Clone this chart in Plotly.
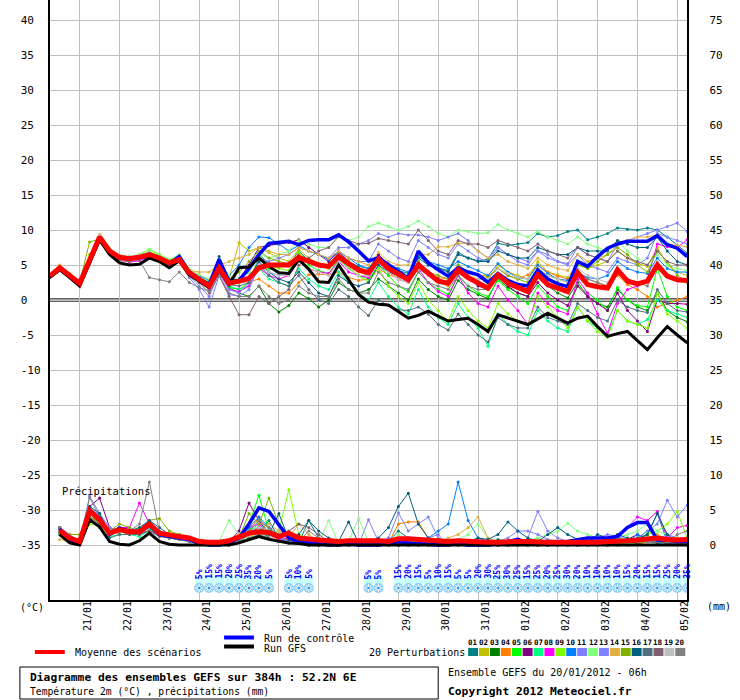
import plotly.graph_objects as go
import pandas as pd

# ---------------- time axis (6-hourly, 0..384h) ----------------
times = pd.date_range("2012-01-20 06:00", periods=65, freq="6h")
day_ticks = pd.date_range("2012-01-21", "2012-02-05", freq="D")
day_labels = [d.strftime("%d/%m") for d in day_ticks]

temp_ticks = [-35, -30, -25, -20, -15, -10, -5, 0, 5, 10, 15, 20, 25, 30, 35, 40]
rain_ticks = [0, 5, 10, 15, 20, 25, 30, 35, 40, 45, 50, 55, 60, 65, 70, 75]

pert_colors = ["#008080", "#c0c000", "#008000", "#ff8000", "#00ff00", "#800080", "#00ff80",
               "#ff00ff", "#80ff00", "#0080ff", "#8080ff", "#80ff80", "#8080ff", "#e0b040",
               "#80b000", "#006080", "#507080", "#806070", "#c0c0c0", "#808080"]
pert_labels = ["01", "02", "03", "04", "05", "06", "07", "08", "09", "10",
               "11", "12", "13", "14", "15", "16", "17", "18", "19", "20"]

# ---------------- temperature 2m (°C) ----------------
temp_mean = [3.4,4.6,3.5,2.4,5.7,9.0,7.0,6.1,5.9,6.1,6.5,6.0,5.3,5.8,3.9,
             2.9,2.0,4.6,2.4,2.7,3.1,4.6,5.0,5.0,5.0,6.1,5.5,5.0,4.8,6.2,5.2,4.3,3.9,5.8,4.5,
             3.6,2.9,5.0,3.8,2.7,2.4,4.3,3.2,2.4,1.7,3.6,2.4,1.8,1.2,3.6,2.2,1.7,1.2,3.9,2.2,
             1.9,1.7,4.3,2.7,2.3,2.7,5.0,3.4,2.9,2.8]
temp_ctrl = [3.3,4.5,3.3,2.2,5.5,8.7,6.8,6.0,6.0,6.0,6.3,6.0,5.2,6.2,4.0,
             3.0,2.2,5.8,2.6,2.8,4.5,6.5,8.1,8.3,8.4,7.9,8.5,8.6,8.6,9.3,8.3,7.0,5.6,6.0,5.0,
             4.1,3.1,7.0,5.3,4.3,3.4,4.6,4.0,3.6,2.5,3.8,2.8,2.2,2.0,4.3,3.0,2.3,1.9,5.5,4.8,
             6.2,7.4,8.0,8.4,8.4,8.4,9.2,7.9,7.4,6.2]
temp_gfs = [3.2,4.3,3.2,2.0,5.3,8.6,6.5,5.3,5.0,5.1,6.0,5.5,4.6,5.6,3.6,
            2.7,1.8,4.3,2.2,4.6,4.7,6.0,4.8,3.9,3.8,5.8,4.4,2.6,2.5,5.0,2.9,0.8,-0.3,-0.6,-0.7,
            -1.6,-2.6,-2.2,-1.6,-2.3,-3.0,-2.8,-2.6,-3.5,-4.5,-2.1,-2.6,-3.0,-3.5,-2.7,-1.9,-2.6,-3.3,-2.6,-2.3,
            -3.8,-5.2,-4.8,-4.5,-5.8,-7.1,-5.4,-3.8,-5.0,-6.1]

temp_p01 = [3.5,4.4,3.4,2.3,5.5,8.8,6.8,6.3,6.0,6.4,6.8,6.2,5.5,6.0,4.0,
            3.2,2.5,5.2,2.8,3.0,4.0,6.5,5.2,4.8,5.0,7.0,5.6,5.0,4.6,6.8,5.5,4.8,4.5,6.5,5.0,
            4.2,3.8,6.5,5.0,4.6,4.2,6.8,6.0,5.6,5.8,8.1,7.8,8.0,8.2,9.5,9.0,9.2,9.8,10.0,8.6,
            9.0,9.5,10.3,10.1,10.0,10.3,10.0,9.0,7.8,6.7]
temp_p02 = [3.3,4.5,3.3,2.2,6.5,8.5,6.6,6.0,5.8,6.0,6.4,5.8,5.0,5.6,3.8,
            3.0,2.2,4.8,3.0,8.2,7.0,7.5,6.8,6.0,5.5,7.2,6.0,5.2,4.5,6.0,5.0,4.0,3.5,5.5,4.2,
            3.0,2.5,4.8,3.5,2.6,2.0,4.5,3.5,3.0,2.8,5.0,4.0,3.5,3.0,5.5,4.0,3.6,3.2,5.2,4.5,
            5.0,5.5,7.0,6.0,5.2,4.8,7.5,5.0,4.0,3.5]
temp_p03 = [3.4,4.6,3.4,2.3,5.4,8.8,6.9,5.8,5.7,6.0,6.6,6.1,5.4,5.9,3.7,
            2.6,1.5,4.0,1.8,1.0,0.5,2.0,-0.5,-1.7,-0.8,1.0,0.2,-1.0,0.0,2.5,1.5,1.0,1.5,3.0,2.0,
            1.0,0.0,3.0,1.5,0.5,0.0,2.8,1.5,0.8,0.2,3.0,1.8,1.0,0.5,3.5,2.0,1.0,0.3,2.5,0.5,
            -0.5,-1.0,1.5,0.0,-1.0,-1.5,1.0,-1.5,-2.5,-3.1]
temp_p04 = [3.3,4.7,3.6,2.5,5.8,9.2,7.2,6.2,5.9,6.2,6.6,6.0,5.2,5.7,3.8,
            2.8,2.0,4.0,2.2,2.5,2.6,3.0,2.0,1.0,1.0,2.5,3.6,3.7,3.6,4.0,3.2,2.8,3.0,4.5,3.6,
            3.2,3.0,4.5,3.6,3.2,3.0,5.0,4.0,3.6,3.4,4.5,3.5,3.0,3.6,5.0,4.0,3.4,3.0,4.2,3.0,
            2.5,2.0,3.5,2.2,1.5,0.5,-1.0,-0.5,0.0,0.5]
temp_p05 = [3.5,4.5,3.4,2.4,5.6,8.9,7.1,6.2,6.1,6.3,6.6,6.2,5.5,6.1,4.0,
            3.0,1.5,4.5,1.8,1.5,2.5,5.8,4.5,4.0,3.8,6.5,5.0,4.2,3.8,5.8,4.5,3.5,3.0,5.0,3.5,
            2.0,1.2,4.0,2.5,1.5,0.8,3.5,2.0,1.0,0.5,2.8,1.5,0.5,-0.5,2.0,0.5,-1.0,-1.5,2.0,1.0,
            0.0,-1.5,1.8,0.0,-0.8,-1.0,4.5,0.5,-1.0,-1.5]
temp_p06 = [3.3,4.4,3.3,2.2,5.5,8.7,6.8,6.0,5.8,6.1,6.6,6.1,5.4,5.9,4.0,
            3.0,2.2,4.5,2.5,3.0,5.0,7.5,7.8,8.0,8.2,8.6,7.5,6.5,5.5,7.0,5.5,4.5,4.0,6.5,5.0,
            4.0,3.2,5.5,4.0,3.0,2.5,4.5,3.2,2.0,1.5,3.5,2.0,1.0,0.5,2.5,1.0,0.0,-0.8,2.0,0.5,
            -0.5,-1.5,1.0,-1.5,-3.0,-4.5,0.0,-0.5,-0.5,-0.6]
temp_p07 = [3.4,4.5,3.5,2.4,5.6,8.9,7.0,6.1,6.0,6.3,6.9,6.3,5.5,6.2,4.1,
            3.0,1.8,4.8,2.0,1.5,2.0,4.5,3.0,2.5,2.0,4.5,3.0,2.0,1.5,4.0,2.5,1.0,0.0,2.5,0.5,
            -1.0,-2.0,1.5,-1.0,-2.5,-3.5,-0.5,-2.5,-4.0,-6.6,-2.0,-3.5,-4.5,-5.0,-1.5,-3.0,-4.0,-4.5,-1.0,-3.0,
            -4.0,-5.0,-1.5,-3.0,-3.5,-2.8,0.0,-1.5,-2.0,-2.5]
temp_p08 = [3.3,4.6,3.4,2.3,5.5,8.8,6.9,5.8,5.4,5.6,6.2,5.8,5.0,5.6,3.6,
            2.6,1.6,4.0,1.5,1.2,2.0,4.6,3.5,3.0,3.5,5.5,4.5,4.0,3.8,5.5,4.0,3.5,3.2,5.5,4.0,
            3.0,2.5,4.5,2.5,1.2,0.5,3.5,1.0,-0.5,-1.0,2.0,0.0,-1.5,-3.5,1.0,-0.5,-1.5,-2.0,3.0,1.0,
            -2.0,-4.8,-0.5,1.5,2.0,3.0,8.0,7.6,7.5,8.6]
temp_p09 = [3.5,4.7,3.6,2.5,5.8,9.1,7.2,6.3,6.1,6.5,7.2,6.5,5.7,6.3,4.3,
            3.4,2.5,5.0,3.0,2.5,3.0,6.0,5.0,4.5,4.2,6.8,5.5,5.0,4.5,6.0,4.8,3.5,2.5,4.5,2.0,
            0.5,-0.5,2.5,0.0,-1.5,-3.0,0.5,-1.5,-3.0,-4.0,-0.5,-2.0,-3.0,-3.5,0.5,-1.0,-2.5,-4.0,-1.0,-3.0,
            -4.5,-5.4,-1.5,-3.0,-3.5,-4.0,1.0,-2.0,-3.0,-4.0]
temp_p10 = [3.3,4.6,3.5,2.3,5.6,9.0,7.0,6.0,5.9,6.0,6.4,6.0,5.3,5.9,4.1,
            3.4,2.8,5.5,3.5,5.0,7.5,9.0,8.9,8.0,7.0,7.8,7.0,6.5,5.8,7.0,6.0,5.0,4.5,6.0,5.0,
            4.5,4.0,6.2,5.5,5.0,4.5,5.5,4.8,4.2,3.5,5.2,4.0,3.2,3.0,5.0,3.8,3.0,2.8,4.0,3.2,
            3.0,3.5,5.5,4.5,4.0,3.8,6.0,4.5,4.0,4.0]
temp_p11 = [3.4,4.5,3.4,2.3,5.5,8.8,6.8,6.0,5.8,6.0,6.3,5.7,5.0,5.5,3.2,
            1.5,-1.0,3.5,0.8,0.5,1.5,5.0,4.0,3.5,3.5,6.0,5.5,5.0,4.8,7.0,6.0,5.5,5.5,8.0,7.0,
            6.0,5.5,8.5,7.5,6.5,6.0,8.0,7.0,6.0,5.5,7.5,6.5,5.5,5.0,7.0,6.0,5.5,5.2,7.5,6.5,
            6.0,5.5,8.0,8.5,9.0,9.5,10.0,10.5,11.0,9.8]
temp_p12 = [3.5,4.6,3.5,2.5,5.7,9.1,7.2,6.3,6.2,6.5,7.3,6.6,5.8,6.5,4.5,
            3.6,3.0,5.5,3.5,3.0,4.0,6.5,6.0,6.5,7.0,8.5,8.0,7.5,7.5,9.0,8.5,9.0,10.5,11.0,10.5,
            10.0,10.5,11.3,10.5,9.5,9.0,10.0,9.8,9.5,9.6,10.8,10.0,9.5,9.0,9.8,9.0,8.5,8.0,9.0,8.0,
            7.5,7.0,8.5,7.0,6.0,5.0,6.5,5.0,4.5,4.2]
temp_p13 = [3.3,4.5,3.3,2.2,5.4,8.7,6.7,5.9,5.7,5.9,6.3,5.8,5.1,5.6,3.5,
            2.0,0.5,3.8,1.5,1.0,2.5,6.0,5.5,6.0,6.5,7.5,7.0,6.5,6.0,7.5,7.5,8.0,8.5,9.5,9.0,
            9.5,9.3,9.3,9.0,8.5,9.0,9.5,8.5,7.0,6.0,7.5,6.5,6.0,5.5,7.0,6.5,5.5,5.0,6.5,5.0,
            4.5,4.0,6.0,5.5,5.0,6.0,9.5,9.0,8.5,8.0]
temp_p14 = [3.6,5.0,3.8,2.6,6.0,9.4,7.4,6.4,6.2,6.4,6.8,6.3,5.6,6.1,4.2,
            4.0,4.0,5.0,5.5,6.0,6.5,7.5,7.0,6.5,6.5,7.5,7.0,6.5,6.0,7.0,6.0,5.5,5.0,6.8,5.5,
            5.0,5.0,6.5,6.5,7.6,7.6,8.1,8.1,7.0,6.0,6.5,5.5,5.0,4.5,6.0,5.0,4.5,4.2,6.5,5.5,
            6.0,6.5,8.0,8.5,9.0,9.0,9.3,8.0,7.8,7.6]
temp_p15 = [3.3,4.4,3.3,2.5,8.3,8.7,7.0,6.0,5.9,6.1,6.5,6.0,5.4,6.0,3.8,
            2.8,1.8,4.5,3.0,4.0,5.5,7.0,6.0,5.5,5.2,6.5,5.5,5.0,4.8,6.5,5.5,4.5,4.0,6.0,4.8,
            3.8,3.0,5.5,4.0,3.5,3.0,5.0,4.0,3.5,3.2,4.5,3.5,3.0,2.5,4.5,3.5,3.0,2.5,5.0,4.5,
            5.5,6.5,7.5,6.5,5.0,4.0,7.0,5.5,3.5,2.5]
temp_p16 = [3.4,4.6,3.4,2.3,5.5,8.9,6.8,6.0,5.9,6.2,6.6,6.0,5.3,5.9,4.0,
            3.0,2.5,6.2,3.0,2.5,3.0,5.5,4.0,3.0,2.5,4.0,2.5,1.0,0.5,3.5,2.5,2.0,2.5,5.0,4.0,
            3.5,3.5,6.0,5.0,4.5,4.0,6.5,6.0,5.5,5.5,7.0,6.5,6.0,6.0,7.5,7.0,6.5,6.5,7.5,7.0,
            7.0,7.0,8.5,8.0,7.5,7.5,9.0,7.0,5.5,5.0]
temp_p17 = [3.3,4.5,3.3,2.2,5.4,8.6,6.7,5.9,5.8,6.0,6.3,5.8,5.1,5.6,3.7,
            2.8,2.0,4.2,2.2,2.0,2.5,5.0,3.5,2.5,2.0,3.5,1.5,0.0,-0.5,1.5,0.5,-1.0,-2.2,0.0,-0.8,
            -1.4,-1.5,-1.0,-2.0,-3.5,-4.3,-2.0,-3.5,-5.0,-6.0,-2.5,-3.5,-4.0,-4.0,-1.0,-2.5,-3.0,-3.5,-0.5,-1.5,
            -2.5,-3.0,0.0,-1.0,-1.5,-1.8,1.5,-0.5,-1.5,-1.7]
temp_p18 = [3.4,4.6,3.5,2.4,5.7,9.0,7.0,6.1,6.0,6.2,6.6,6.1,5.4,5.9,4.0,
            2.5,1.0,3.5,0.5,-2.1,-2.1,0.5,-0.5,0.5,1.5,5.0,6.0,7.0,7.5,9.1,8.5,8.0,8.1,8.8,8.5,
            8.3,8.0,10.0,8.5,7.0,6.5,8.5,8.0,8.0,7.5,8.5,8.0,7.5,7.0,8.0,7.0,6.5,6.0,7.5,6.5,
            6.0,5.5,7.0,6.0,5.5,5.0,7.0,5.5,5.0,5.0]
temp_p19 = [3.5,4.8,3.6,2.5,5.8,9.2,7.2,6.3,6.2,6.4,6.8,6.2,5.5,6.0,4.0,
            3.0,2.0,4.5,2.5,2.5,3.0,5.0,4.0,3.5,3.5,5.5,4.5,4.0,3.5,5.5,4.5,3.5,3.5,5.5,4.0,
            3.0,2.5,4.5,3.5,2.8,2.5,4.0,3.5,3.0,3.0,4.5,3.8,3.2,3.0,4.5,3.5,3.0,2.5,4.5,3.5,
            3.0,2.5,4.0,3.0,2.5,2.5,5.5,3.5,3.0,3.0]
temp_p20 = [3.2,4.4,3.2,2.1,5.3,8.6,6.6,5.6,5.5,5.7,3.2,2.9,2.6,4.0,2.5,
            1.8,1.2,3.5,1.0,0.5,0.5,2.0,0.5,-0.5,0.0,2.0,1.0,0.5,0.5,3.0,1.5,1.0,1.0,4.0,2.5,
            2.0,1.5,4.0,2.5,2.0,1.5,3.5,2.0,1.5,1.5,3.5,2.5,2.0,1.5,4.0,3.0,2.5,2.0,4.0,3.0,
            2.5,2.0,3.8,3.0,2.5,2.0,4.5,3.5,3.0,3.0]

# ---------------- precipitation (mm / 6h) ----------------
rain_mean = [None,2.1,1.0,0.5,4.9,3.6,1.7,2.2, 1.9,1.9,3.0,1.7,1.4,1.2,1.0,0.5,
             0.4,0.4,0.6,1.2,1.7,1.9,1.8,1.2, 1.7,1.0,0.8,0.7,0.6,0.5,0.6,0.6,
             0.7,0.6,0.5,0.9,0.9,0.8,0.6,0.5, 0.5,0.6,0.5,0.4,0.4,0.4,0.5,0.5,
             0.5,0.4,0.4,0.4,0.4,0.3,0.3,0.4, 0.5,0.5,0.6,0.7,0.9,1.0,0.8,0.7, 0.8]
rain_ctrl = [None,2.3,0.8,0.3,5.0,3.8,1.5,2.4, 2.0,1.8,2.8,1.5,1.2,1.0,0.8,0.2,
             0.0,0.0,0.3,1.0,3.0,5.3,4.8,3.0, 1.0,0.5,0.3,0.2,0.0,0.0,0.2,0.0,
             0.0,0.0,0.2,0.5,0.3,0.2,0.0,0.0, 0.0,0.2,0.0,0.0,0.0,0.2,0.5,0.8,
             0.3,0.3,0.2,0.3,0.5,0.8,1.0,1.0, 1.0,1.2,2.5,3.2,3.2,0.7,0.7,0.5, 0.5]
rain_gfs = [None,1.5,0.3,0.0,3.6,2.6,0.5,0.1, 0.0,0.6,1.7,0.5,0.1,0.0,0.0,0.0,
            0.0,0.0,0.0,0.3,0.8,1.2,0.8,0.5, 0.3,0.2,0.0,0.0,0.0,0.0,0.0,0.0,
            0.0,0.0,0.0,0.0,0.0,0.0,0.0,0.0, 0.0,0.0,0.0,0.0,0.0,0.0,0.0,0.0,
            0.0,0.0,0.0,0.0,0.0,0.0,0.0,0.0, 0.0,0.0,0.0,0.0,0.0,0.0,0.0,0.0, 0.0]

rain_p01 = [None,2.5,1.2,0.4,5.5,3.5,1.5,2.5, 2.0,2.2,3.5,1.8,1.5,1.0,0.8,0.3,
            0.2,0.0,0.5,1.0,2.0,1.5,3.5,1.0, 0.5,0.3,3.5,1.0,0.0,0.0,0.3,0.0,
            0.2,0.0,0.5,2.0,1.0,0.5,0.3,0.5, 0.0,0.2,0.0,0.3,0.0,0.8,0.5,0.2,
            0.5,0.3,0.2,0.0,0.2,0.5,1.0,0.5, 0.3,1.0,0.5,1.0,1.5,4.5,0.5,1.0, 0.8]
rain_p02 = [None,2.0,1.5,1.5,3.5,4.0,2.0,2.5, 1.5,1.8,2.5,1.5,1.2,1.0,0.8,0.5,
            0.3,0.5,0.8,1.5,1.0,2.0,1.0,0.5, 1.0,0.5,0.3,0.5,0.8,0.3,0.0,0.2,
            0.0,0.0,0.3,0.0,0.0,0.0,0.2,0.0, 0.0,0.0,0.0,0.2,0.0,0.0,0.0,0.3,
            0.0,0.0,0.2,0.0,0.0,0.0,0.0,0.3, 0.5,0.2,0.0,0.5,1.5,0.3,0.5,0.2, 0.3]
rain_p03 = [None,1.8,0.8,0.5,4.5,3.0,1.5,2.0, 1.5,2.0,2.5,1.5,1.0,0.8,1.0,0.3,
            0.2,0.0,0.0,0.5,1.5,2.5,1.0,0.5, 0.8,0.3,0.5,0.2,0.0,0.3,0.5,0.2,
            0.0,0.3,1.0,0.5,0.5,0.0,0.0,0.0, 0.5,0.3,0.0,0.0,0.0,0.2,0.0,0.0,
            0.0,0.3,0.0,0.0,0.2,0.0,0.5,0.3, 0.0,0.0,0.5,0.2,0.5,0.3,1.0,0.2, 0.0]
rain_p04 = [None,1.5,0.5,0.5,4.0,3.5,2.0,1.5, 1.5,1.5,2.5,1.5,1.2,1.5,0.8,0.3,
            0.2,0.0,0.3,1.0,2.0,4.0,1.5,0.5, 0.8,0.3,0.2,0.0,0.0,0.0,0.0,0.3,
            0.2,0.5,0.3,3.0,3.3,3.3,1.0,0.5, 0.2,0.0,0.0,0.0,0.0,0.0,0.0,0.0,
            0.3,0.5,0.0,0.0,0.0,0.3,0.5,0.0, 0.0,0.2,0.0,0.0,0.5,0.8,0.3,1.0, 0.5]
rain_p05 = [None,2.0,0.8,0.5,4.5,3.0,1.5,2.5, 2.0,1.5,2.0,1.8,1.5,0.8,0.5,0.3,
            0.5,0.0,0.3,1.5,3.0,7.1,2.0,1.0, 1.5,0.5,0.3,0.0,0.2,0.0,0.3,0.0,
            0.0,0.2,0.5,0.0,0.0,0.3,0.0,0.0, 0.0,0.0,0.0,0.0,0.0,0.0,0.0,0.2,
            0.5,1.0,0.2,0.0,0.0,0.0,0.2,0.0, 0.0,0.0,0.5,1.0,2.0,1.5,0.5,0.3, 0.5]
rain_p06 = [None,2.2,0.8,0.4,5.5,6.7,2.5,2.0, 1.8,2.0,2.5,1.8,1.5,1.2,1.0,0.5,
            0.2,0.3,0.5,2.0,6.0,3.5,1.5,2.0, 1.5,0.8,0.3,0.0,0.0,0.0,0.2,0.0,
            0.0,0.0,0.0,0.2,0.0,0.0,0.0,0.0, 0.0,0.0,0.0,0.0,0.3,0.0,0.0,0.0,
            0.0,0.0,0.0,0.0,0.0,0.3,0.5,0.3, 0.2,0.5,0.8,1.5,1.0,0.5,0.2,0.5, 0.3]
rain_p07 = [None,1.8,0.6,0.3,3.5,2.5,1.2,1.5, 1.5,1.2,2.2,1.5,1.0,1.0,0.5,0.2,
            0.0,0.0,0.5,1.0,2.0,3.0,2.0,1.5, 1.0,0.5,0.0,0.0,0.0,0.0,0.0,0.0,
            0.0,0.0,0.0,0.0,0.0,0.0,0.0,0.2, 0.0,0.0,0.0,0.0,0.0,0.0,0.0,0.0,
            0.0,0.0,0.0,0.2,0.5,0.0,0.0,0.0, 0.0,0.0,0.3,0.5,0.8,0.3,0.0,0.2, 0.0]
rain_p08 = [None,2.0,1.0,0.5,4.8,3.5,2.0,2.5, 2.5,6.0,3.0,1.5,1.2,1.0,0.8,0.3,
            0.0,0.2,0.5,1.0,2.5,3.0,1.5,0.8, 1.0,0.5,0.3,0.0,0.0,0.0,0.0,0.0,
            0.0,0.0,0.0,0.0,0.0,0.3,0.0,0.0, 0.0,0.0,0.0,0.0,0.0,0.0,0.0,0.0,
            0.0,0.0,0.0,0.0,0.3,0.5,0.3,0.5, 0.8,1.5,2.5,4.0,3.5,4.8,1.0,2.5, 2.8]
rain_p09 = [None,1.5,1.0,0.5,3.0,2.8,1.5,2.0, 1.5,2.0,2.5,1.5,1.0,0.8,0.5,0.5,
            0.3,0.0,0.5,1.5,2.5,1.5,1.5,2.0, 7.9,1.5,1.0,0.5,0.5,0.3,0.0,0.2,
            0.0,0.5,0.2,0.0,0.0,0.2,0.0,0.0, 0.0,0.0,0.0,0.0,0.2,0.0,0.0,0.0,
            0.0,0.0,0.3,0.0,0.0,0.0,0.0,0.2, 0.0,0.5,1.0,0.5,1.5,2.0,3.0,4.8, 1.0]
rain_p10 = [None,2.2,1.0,0.5,5.0,4.0,1.8,2.2, 2.0,1.8,3.0,1.8,1.5,1.0,0.8,0.3,
            0.0,0.0,0.3,1.0,2.5,4.0,2.5,1.0, 0.5,0.3,0.0,0.0,0.0,0.0,0.0,0.0,
            0.0,0.0,0.0,0.0,0.0,0.5,1.0,2.0, 3.0,9.0,3.5,1.0,0.5,0.0,0.0,0.0,
            0.0,0.0,0.0,0.0,0.0,0.0,0.2,0.5, 0.8,1.0,0.5,1.5,0.8,0.5,0.3,0.0, 0.0]
rain_p11 = [None,2.5,1.5,0.5,7.0,4.5,2.0,2.5, 2.0,1.5,2.5,1.5,1.2,1.0,0.8,0.5,
            0.3,0.2,0.5,1.0,1.5,2.5,1.5,1.0, 0.5,0.3,0.0,0.0,0.0,0.0,0.0,0.0,
            3.6,0.5,1.0,4.6,2.0,3.0,4.0,1.0, 0.5,0.0,0.3,0.0,0.5,0.3,0.5,0.0,
            1.0,4.8,2.0,1.0,0.5,0.3,0.2,0.2, 0.5,0.3,0.5,1.0,2.0,3.0,6.4,4.0, 5.7]
rain_p12 = [None,2.0,1.0,0.5,4.5,3.5,2.0,2.5, 2.0,2.0,3.0,1.5,1.5,1.0,0.8,0.5,
            0.3,0.5,3.5,1.5,2.0,2.5,1.5,2.0, 1.5,0.8,0.5,0.3,3.5,0.2,0.5,3.8,
            0.5,0.5,0.3,1.5,0.5,0.3,0.5,0.5, 0.3,0.8,1.5,3.0,1.0,0.5,0.3,0.2,
            0.5,1.0,1.5,2.0,3.1,2.0,1.5,1.0, 0.8,1.0,1.5,2.0,3.0,2.0,1.5,0.5, 0.8]
rain_p13 = [None,2.0,1.2,0.5,5.0,4.5,2.5,2.0, 1.5,1.8,2.5,1.5,1.0,0.8,0.5,0.3,
            0.0,0.2,0.5,0.8,1.5,2.0,1.0,0.5, 0.3,0.5,1.0,0.5,0.3,0.0,0.0,0.0,
            0.0,0.0,0.0,0.0,0.2,0.5,1.0,1.5, 0.0,0.0,0.0,0.0,0.0,0.5,1.0,2.0,
            2.0,1.5,0.8,0.5,0.3,0.2,0.5,1.0, 1.5,1.2,0.8,1.0,0.5,0.8,1.5,1.0, 0.5]
rain_p14 = [None,0.8,0.5,1.0,4.0,3.0,1.8,2.2, 1.5,1.5,2.5,1.5,1.2,1.0,0.8,0.5,
            0.3,0.5,0.3,1.5,2.0,1.5,3.0,2.0, 1.0,3.0,1.5,0.5,0.3,0.0,0.0,0.0,
            0.0,0.0,0.0,0.0,0.0,0.0,0.3,0.5, 1.0,1.5,2.5,4.0,1.0,0.5,0.0,0.0,
            0.0,0.0,0.0,0.0,0.0,0.3,0.5,0.3, 0.5,0.3,0.5,0.8,1.0,1.5,0.8,1.0, 0.5]
rain_p15 = [None,2.0,1.5,1.5,3.8,3.5,2.0,3.0, 2.5,2.0,3.5,3.8,2.0,1.5,1.0,0.5,
            0.3,0.0,0.5,1.0,4.5,3.0,6.7,3.0, 1.5,0.5,0.3,0.0,0.0,0.3,0.5,0.0,
            0.0,0.0,0.2,0.5,1.0,0.8,0.5,0.5, 0.5,0.3,0.3,0.0,0.0,0.3,0.0,0.0,
            0.0,0.3,0.0,0.0,0.0,0.0,0.3,0.5, 0.3,0.5,0.5,0.3,0.5,1.0,0.5,0.3, 0.5]
rain_p16 = [None,2.5,1.0,0.5,5.5,4.5,1.5,2.5, 2.0,2.5,3.5,2.5,1.5,1.0,0.8,0.5,
            0.3,0.2,0.5,1.0,2.0,2.5,1.5,4.5, 0.8,1.5,3.5,2.0,1.0,0.5,3.3,0.3,
            0.5,1.0,2.5,5.5,7.4,3.0,1.0,0.5, 0.3,0.2,0.5,1.0,0.8,1.5,3.3,2.0,
            1.0,0.5,1.5,2.5,1.5,0.8,0.5,1.5, 1.0,1.5,1.0,0.8,1.5,4.5,1.5,0.5, 0.3]
rain_p17 = [None,1.5,0.5,0.3,3.5,2.5,1.0,1.5, 1.5,1.5,2.0,1.2,1.0,0.8,0.5,0.2,
            0.0,0.0,0.3,0.5,1.0,1.5,1.0,0.5, 0.3,0.2,0.0,0.0,0.0,0.0,0.0,0.0,
            0.0,0.0,0.0,0.0,0.0,0.0,0.0,0.0, 0.0,0.0,0.0,0.0,0.0,0.0,0.0,0.0,
            0.0,0.0,0.0,0.0,0.2,0.0,0.0,0.0, 0.0,0.2,0.5,1.0,0.5,0.3,0.5,0.8, 1.0]
rain_p18 = [None,2.2,1.0,0.5,4.0,3.0,1.5,2.0, 2.0,1.8,2.0,1.5,1.2,1.0,0.8,0.3,
            0.0,0.3,0.5,1.0,1.5,2.5,2.0,1.5, 2.0,3.0,2.5,1.5,0.5,0.3,0.2,0.0,
            0.0,0.0,0.0,0.0,0.5,0.3,0.0,0.0, 0.0,0.0,0.0,0.0,0.0,0.0,0.0,0.0,
            0.0,0.0,0.0,0.0,0.0,0.0,0.0,0.0, 0.0,0.3,0.5,0.3,0.8,0.5,0.3,0.2, 0.3]
rain_p19 = [None,2.0,1.0,0.5,5.0,3.5,2.0,2.5, 2.0,2.0,3.0,2.0,1.5,1.0,0.8,0.3,
            0.2,0.2,0.5,1.0,2.0,2.5,2.0,1.5, 1.5,1.0,0.5,0.3,0.5,0.3,0.3,0.2,
            0.3,0.3,0.5,0.5,0.3,0.3,0.3,0.3, 0.3,0.3,0.2,0.3,0.3,0.3,0.2,0.3,
            0.3,0.3,0.3,0.2,0.2,0.3,0.3,0.3, 0.3,0.5,0.5,0.5,0.8,0.8,0.5,0.5, 0.5]
rain_p20 = [None,2.5,1.0,0.5,6.8,4.0,2.0,2.5, 2.0,3.0,9.0,2.0,1.0,0.8,0.5,0.3,
            0.2,0.3,0.5,1.0,2.0,3.5,2.5,1.5, 1.0,0.5,2.0,1.0,0.5,0.3,0.2,0.3,
            0.3,0.3,0.3,0.5,0.3,0.3,0.3,0.2, 0.2,0.2,0.3,0.3,0.2,0.2,0.2,0.2,
            0.2,0.2,0.2,0.3,0.3,0.2,0.2,0.2, 0.3,0.3,0.5,0.5,0.5,0.5,0.5,1.5, 2.0]

# ---------------- snow probability (%) ----------------
snow_pct = [None,None,None,None,None,None,None,None, None,None,None,None,None,None,None,5,
            15,15,20,25,35,20,5,None, 5,10,5,None,None,None,None,None,
            5,5,None,15,20,15,5,10, 15,5,5,20,30,25,30,25,
            15,25,20,25,30,20,10,10, 10,10,15,20,15,15,25,20, 35]

temp_perts = [temp_p01, temp_p02, temp_p03, temp_p04, temp_p05, temp_p06, temp_p07, temp_p08,
              temp_p09, temp_p10, temp_p11, temp_p12, temp_p13, temp_p14, temp_p15, temp_p16,
              temp_p17, temp_p18, temp_p19, temp_p20]
rain_perts = [rain_p01, rain_p02, rain_p03, rain_p04, rain_p05, rain_p06, rain_p07, rain_p08,
              rain_p09, rain_p10, rain_p11, rain_p12, rain_p13, rain_p14, rain_p15, rain_p16,
              rain_p17, rain_p18, rain_p19, rain_p20]

_all = {"temp_mean": temp_mean, "temp_ctrl": temp_ctrl, "temp_gfs": temp_gfs,
        "rain_mean": rain_mean, "rain_ctrl": rain_ctrl, "rain_gfs": rain_gfs, "snow": snow_pct}
for k in range(20):
    _all["temp_p%02d" % (k + 1)] = temp_perts[k]
    _all["rain_p%02d" % (k + 1)] = rain_perts[k]
bad = {k: len(v) for k, v in _all.items() if len(v) != 65}
if bad:
    raise ValueError("bad lengths: %s" % bad)

# ---------------- figure ----------------
W, H = 740, 700
FONT = "DejaVu Sans Mono"


def px(x):
    return x / W


def py(y):
    return 1 - y / H


fig = go.Figure()

for k in range(20):
    c = pert_colors[k]
    fig.add_trace(go.Scatter(x=times, y=temp_perts[k], mode="lines+markers",
                             line=dict(color=c, width=1), marker=dict(color=c, size=3),
                             yaxis="y", hoverinfo="skip"))
    fig.add_trace(go.Scatter(x=times, y=rain_perts[k], mode="lines+markers",
                             line=dict(color=c, width=1), marker=dict(color=c, size=3),
                             yaxis="y2", hoverinfo="skip"))

for series, axis, color, width in [(temp_ctrl, "y", "#0000ff", 3.5), (rain_ctrl, "y2", "#0000ff", 3.5),
                                   (temp_gfs, "y", "#000000", 3), (rain_gfs, "y2", "#000000", 3),
                                   (temp_mean, "y", "#ff0000", 5), (rain_mean, "y2", "#ff0000", 5)]:
    fig.add_trace(go.Scatter(x=times, y=series, mode="lines", line=dict(color=color, width=width),
                             yaxis=axis, hoverinfo="skip"))

# snow band and flakes
SNOW_BAND_Y = -40.0
SNOW_FLAKE_Y = -41.15
snow_x = [t for t, p in zip(times, snow_pct) if p is not None]
fig.add_trace(go.Scatter(x=snow_x, y=[SNOW_BAND_Y] * len(snow_x), mode="markers",
                         marker=dict(symbol="square", size=9, color="#c8ffff", line=dict(width=0)),
                         yaxis="y", hoverinfo="skip"))
fig.add_trace(go.Scatter(x=snow_x, y=[SNOW_FLAKE_Y] * len(snow_x), mode="markers",
                         marker=dict(symbol="circle", size=10, color="#86cdf3", line=dict(width=0)),
                         yaxis="y", hoverinfo="skip"))
fig.add_trace(go.Scatter(x=snow_x, y=[SNOW_FLAKE_Y] * len(snow_x), mode="markers",
                         marker=dict(symbol="asterisk-open", size=7, color="white",
                                     line=dict(width=1, color="white")),
                         yaxis="y", hoverinfo="skip"))
fig.add_trace(go.Scatter(x=snow_x, y=[SNOW_FLAKE_Y] * len(snow_x), mode="markers",
                         marker=dict(symbol="circle", size=2.5, color="#3a8ee0", line=dict(width=0)),
                         yaxis="y", hoverinfo="skip"))

annotations = []
for t, p in zip(times, snow_pct):
    if p is None:
        continue
    annotations.append(dict(x=t, xref="x", y=py(581), yref="paper", text="<b>%d%%</b>" % p,
                            textangle=-90, showarrow=False, xanchor="center", yanchor="bottom",
                            font=dict(family=FONT, size=8, color="#0000ff")))


def label(x, y, text, size=10, anchor="left"):
    annotations.append(dict(x=px(x), y=py(y), xref="paper", yref="paper", text=text,
                            showarrow=False, xanchor=anchor, yanchor="middle",
                            font=dict(family=FONT, size=size, color="black")))


label(60, 491, "Précipitations", 10.5)
label(18, 607, "(°C)", 10)
label(708, 606, "(mm)", 10)
label(73, 652, "Moyenne des scénarios", 10)
label(263, 638, "Run de contrôle", 10)
label(263, 648, "Run GFS", 10)
label(368, 652, "20 Perturbations", 10)
label(28, 677, "<b>Diagramme des ensembles GEFS sur 384h : 52.2N 6E</b>", 11.3)
label(28, 691, "Température 2m (°C) , précipitations (mm)", 9.7)
label(448, 672, "Ensemble GEFS du 20/01/2012 - 06h", 10)
label(448, 691, "<b>Copyright 2012 Meteociel.fr</b>", 11.3)

shapes = []
# double zero line
for yv in (0.16, -0.16):
    shapes.append(dict(type="line", xref="x domain", x0=0, x1=1, yref="y", y0=yv, y1=yv,
                       line=dict(color="black", width=1), layer="below"))
# legend lines
shapes.append(dict(type="line", xref="paper", yref="paper", x0=px(35), x1=px(65), y0=py(652), y1=py(652),
                   line=dict(color="#ff0000", width=4)))
shapes.append(dict(type="line", xref="paper", yref="paper", x0=px(225), x1=px(255), y0=py(637.5), y1=py(637.5),
                   line=dict(color="#0000ff", width=4)))
shapes.append(dict(type="line", xref="paper", yref="paper", x0=px(225), x1=px(255), y0=py(646.5), y1=py(646.5),
                   line=dict(color="#000000", width=4)))
for k in range(20):
    x0 = 470 + 10.95 * k
    shapes.append(dict(type="rect", xref="paper", yref="paper", x0=px(x0), x1=px(x0 + 10), y0=py(656),
                       y1=py(648), fillcolor=pert_colors[k], line=dict(width=0)))
    annotations.append(dict(x=px(x0 + 5), y=py(642), xref="paper", yref="paper", text="<b>%s</b>" % pert_labels[k],
                            showarrow=False, xanchor="center", yanchor="middle",
                            font=dict(family=FONT, size=7.5, color="black")))
# title box
shapes.append(dict(type="rect", xref="paper", yref="paper", x0=px(20), x1=px(440), y0=py(699), y1=py(667),
                   line=dict(color="black", width=1), fillcolor="rgba(0,0,0,0)"))

fig.update_layout(
    width=W, height=H, margin=dict(l=0, r=0, t=0, b=0),
    paper_bgcolor="white", plot_bgcolor="white", showlegend=False,
    font=dict(family=FONT, size=11, color="black"),
    annotations=annotations, shapes=shapes,
    xaxis=dict(domain=[px(50), px(690)], range=[times[0], times[-1]], type="date",
               tickmode="array", tickvals=list(day_ticks), ticktext=day_labels, tickangle=-90,
               tickfont=dict(family=FONT, size=10), showgrid=True, gridcolor="#c0c0c0", gridwidth=1,
               showline=True, linecolor="black", linewidth=2, zeroline=False, ticks="",
               ticklabelstandoff=-5, ticklabelshift=8, fixedrange=True),
    yaxis=dict(domain=[1 - 600 / H, 1], range=[-300 / 7, 300 / 7], tickmode="array",
               tickvals=temp_ticks, ticktext=[str(v).ljust(3, "\u00a0") for v in temp_ticks],
               tickfont=dict(family=FONT, size=11), showgrid=True, gridcolor="#c0c0c0", gridwidth=1,
               showline=True, linecolor="black", linewidth=2, zeroline=False, ticks="",
               ticklabelstandoff=5),
    yaxis2=dict(overlaying="y", side="right", range=[-300 / 7 + 35, 300 / 7 + 35], tickmode="array",
                tickvals=rain_ticks, ticktext=[str(v) for v in rain_ticks],
                tickfont=dict(family=FONT, size=11), showgrid=False, showline=True, linecolor="black",
                linewidth=2, zeroline=False, ticks="", ticklabelstandoff=18),
)

fig.write_html("out.html", config={"displayModeBar": False},
               post_script="document.body.style.margin='0';document.body.style.padding='0';")
